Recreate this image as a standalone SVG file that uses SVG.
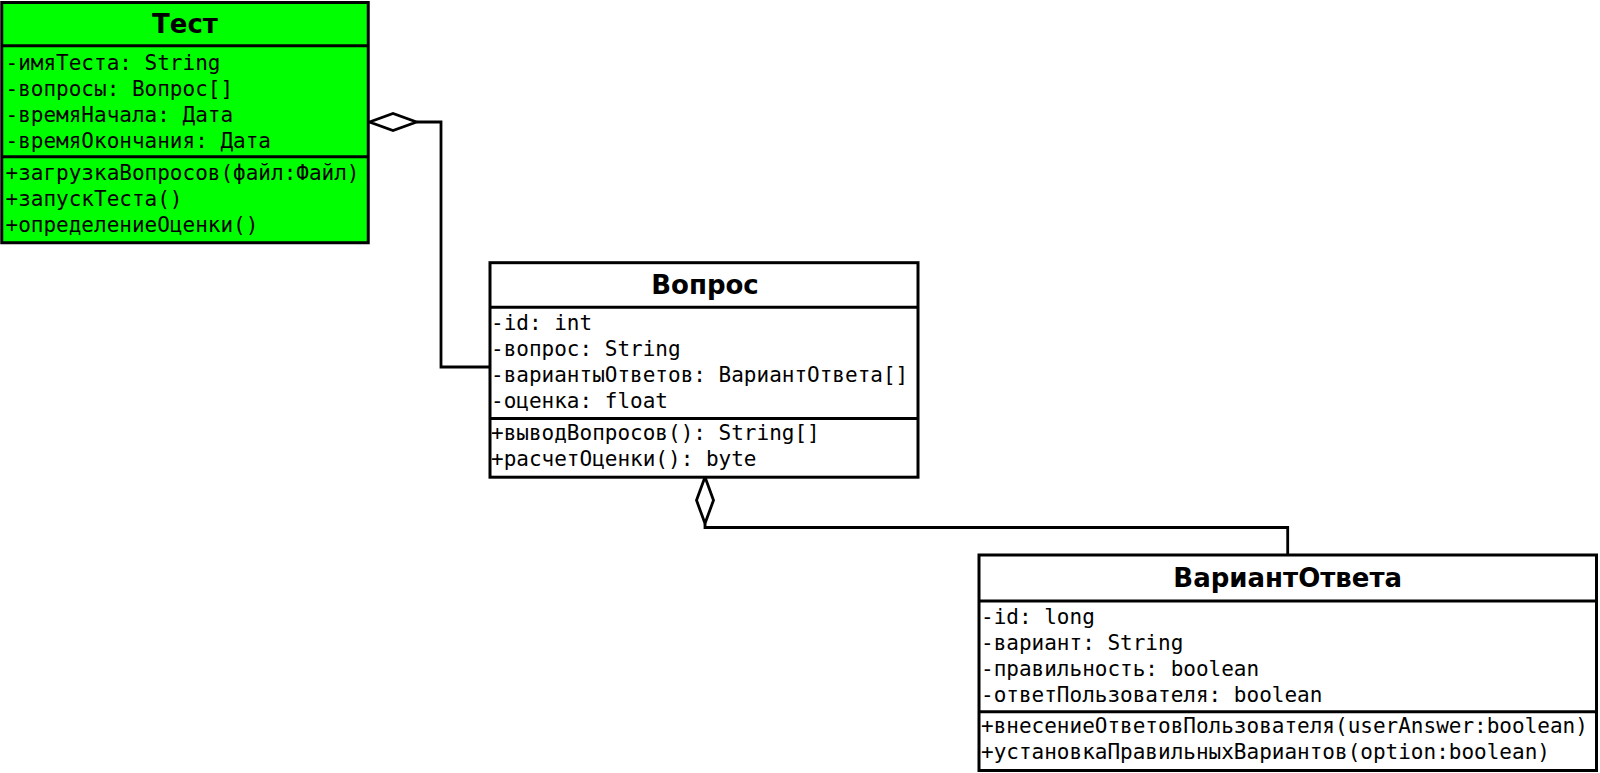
<svg xmlns="http://www.w3.org/2000/svg" width="1600" height="773" viewBox="0 0 1600 773">
  <style>
    .box { stroke: #000; stroke-width: 3; }
    .sep { stroke: #000; stroke-width: 3; fill: none; }
    .title { font-family: "DejaVu Sans", "Noto Sans", sans-serif; font-weight: bold; font-size: 26px; fill: #000; text-anchor: middle; }
    .member { font-family: "DejaVu Sans Mono", "Liberation Mono", monospace; font-size: 21px; fill: #000; }
    .link { stroke: #000; stroke-width: 2.8; fill: none; }
    .agg { stroke: #000; stroke-width: 2.8; fill: #fff; }
  </style>
  <rect width="1600" height="773" fill="#fff"/>

  <!-- associations (aggregation) -->
  <g id="connectors">
    <path class="link" d="M 416.5 122 H 441 V 367 H 489"/>
    <polygon class="agg" points="369.5,122 393,113.5 416.5,122 393,130.5"/>
    <path class="link" d="M 705 523.5 V 527.5 H 1287.7 V 555"/>
    <polygon class="agg" points="705,477 713.5,500.3 705,523.5 696.5,500.3"/>
  </g>

  <!-- class: Тест -->
  <g id="class-test">
    <rect class="box" x="1.75" y="2.5" width="366.5" height="240.25" fill="#00ff00"/>
    <line class="sep" x1="1.75" y1="45.7" x2="368.25" y2="45.7"/>
    <line class="sep" x1="1.75" y1="156.7" x2="368.25" y2="156.7"/>
    <text class="title" x="185" y="32.5">Тест</text>
    <text class="member" x="5.5" y="69.5">-имяТеста: String</text>
    <text class="member" x="5.5" y="95.5">-вопросы: Вопрос[]</text>
    <text class="member" x="5.5" y="121.5">-времяНачала: Дата</text>
    <text class="member" x="5.5" y="147.5">-времяОкончания: Дата</text>
    <text class="member" x="5.5" y="180">+загрузкаВопросов(файл:Файл)</text>
    <text class="member" x="5.5" y="206">+запускТеста()</text>
    <text class="member" x="5.5" y="232">+определениеОценки()</text>
  </g>

  <!-- class: Вопрос -->
  <g id="class-vopros">
    <rect class="box" x="490" y="262.7" width="428" height="214.5" fill="#fff"/>
    <line class="sep" x1="490" y1="307.3" x2="918" y2="307.3"/>
    <line class="sep" x1="490" y1="418.5" x2="918" y2="418.5"/>
    <text class="title" x="705" y="294">Вопрос</text>
    <text class="member" x="491" y="330">-id: int</text>
    <text class="member" x="491" y="356">-вопрос: String</text>
    <text class="member" x="491" y="382">-вариантыОтветов: ВариантОтвета[]</text>
    <text class="member" x="491" y="408">-оценка: float</text>
    <text class="member" x="491" y="440">+выводВопросов(): String[]</text>
    <text class="member" x="491" y="466">+расчетОценки(): byte</text>
  </g>

  <!-- class: ВариантОтвета -->
  <g id="class-variant">
    <rect class="box" x="979" y="555" width="617.5" height="215.5" fill="#fff"/>
    <line class="sep" x1="979" y1="601" x2="1596.5" y2="601"/>
    <line class="sep" x1="979" y1="711.8" x2="1596.5" y2="711.8"/>
    <text class="title" x="1287.7" y="587">ВариантОтвета</text>
    <text class="member" x="981" y="624">-id: long</text>
    <text class="member" x="981" y="650">-вариант: String</text>
    <text class="member" x="981" y="676">-правильность: boolean</text>
    <text class="member" x="981" y="702">-ответПользователя: boolean</text>
    <text class="member" x="981" y="733">+внесениеОтветовПользователя(userAnswer:boolean)</text>
    <text class="member" x="981" y="759">+установкаПравильныхВариантов(option:boolean)</text>
  </g>
</svg>
